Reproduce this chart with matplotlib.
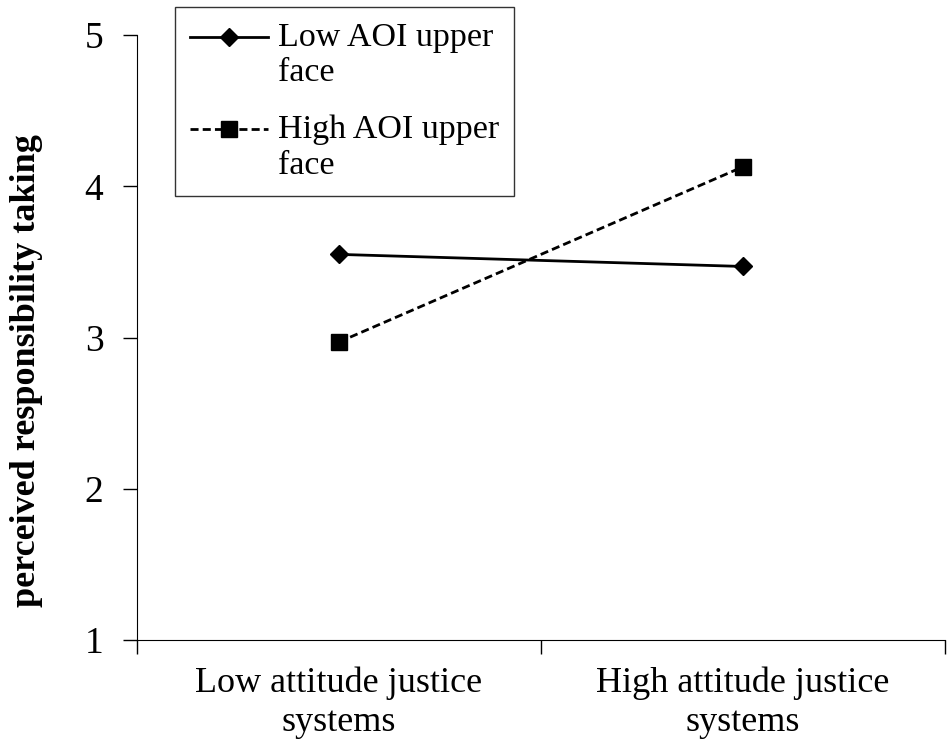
import matplotlib
matplotlib.use("Agg")
import matplotlib.pyplot as plt

categories = ["Low attitude justice\nsystems", "High attitude justice\nsystems"]
low_aoi = [3.55, 3.47]
high_aoi = [2.97, 4.13]
series_names = ["Low AOI upper\nface", "High AOI upper\nface"]

plt.rcParams["font.family"] = ["Liberation Serif", "DejaVu Serif"]

fig = plt.figure(figsize=(9.5, 7.5), dpi=100)
ax = fig.add_axes([0.144, 0.147, 0.851, 0.806])

x = [0.5, 1.5]
ax.plot(x, low_aoi, color="black", linestyle="-", linewidth=2,
        marker="D", markersize=9.5, label=series_names[0])
ax.plot(x, high_aoi, color="black", linestyle=(0, (2.9, 1.5)), linewidth=2,
        marker="s", markersize=11, label=series_names[1])

ax.set_xlim(0, 2)
ax.set_ylim(1, 5)
ax.set_yticks([1, 2, 3, 4, 5])
ax.set_xticks([0, 1, 2])
ax.set_xticklabels([])
ax.set_xticks(x, minor=True)
ax.set_xticklabels(categories, minor=True, fontsize=26, linespacing=1.25)
ax.tick_params(axis="x", which="minor", length=0, pad=19)
ax.tick_params(axis="x", which="major", length=10, width=1)
ax.tick_params(axis="y", length=10, width=1, labelsize=27, pad=14)

ax.spines["top"].set_visible(False)
ax.spines["right"].set_visible(False)

ax.set_ylabel("perceived responsibility taking", fontsize=26, fontweight="bold")
ax.yaxis.set_label_coords(-0.116, 0.446)

leg = ax.legend(loc="upper left", bbox_to_anchor=(0.184, 0.991), bbox_transform=fig.transFigure,
                borderaxespad=0, fontsize=24.5, fancybox=False, edgecolor="black",
                handlelength=2.3, handleheight=1.2, handletextpad=0.27, labelspacing=0.8,
                borderpad=0.45)
leg.get_frame().set_linewidth(1)
# put the legend handles level with the first line of each label
for col in leg._legend_handle_box.get_children():
    for item in col.get_children():
        item.align = "top"

plt.savefig("out.png", dpi=100)
